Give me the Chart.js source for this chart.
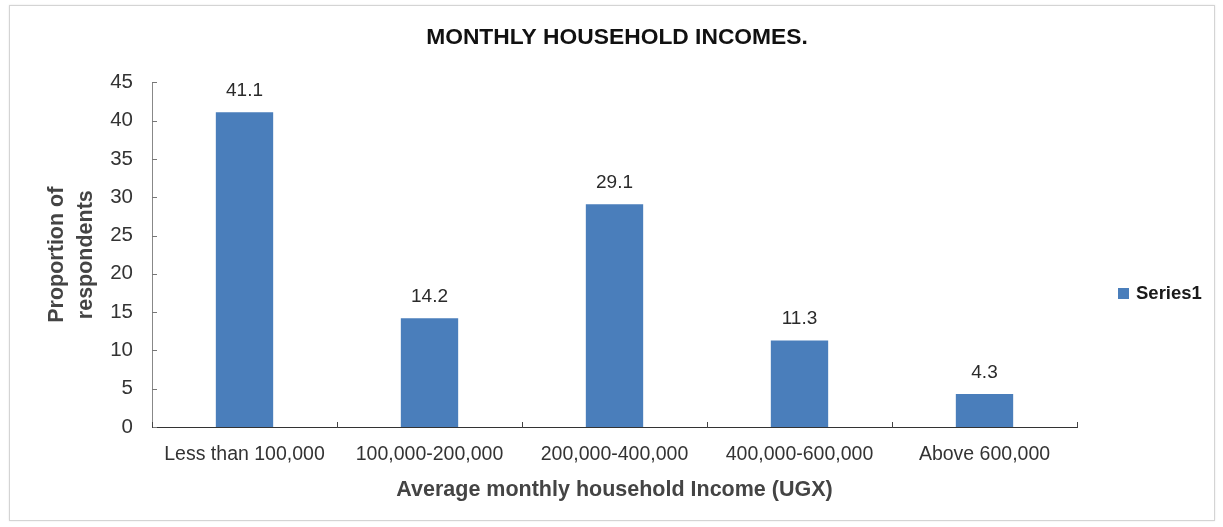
<!DOCTYPE html>
<html>
<head>
<meta charset="utf-8">
<script src="https://cdn.jsdelivr.net/npm/chart.js@4.4.1/dist/chart.umd.min.js"></script>
<style>
    html, body { margin: 0; padding: 0; background: #fff; }
    #wrap { position: relative; width: 1223px; height: 527px; }
    #frame {
        position: absolute; left: 9px; top: 5px; width: 1204px; height: 514px;
        border: 1px solid #d4d4d4; box-shadow: 0 0 2px #e6e6e6;
    }
    #chartBox { position: absolute; left: 0; top: 0; width: 1223px; height: 527px; }
</style>
</head>
<body>
<div id="wrap">
    <div id="frame"></div>
    <div id="chartBox"><canvas id="myChart"></canvas></div>
</div>
<script>
const categories = [
    "Less than 100,000",
    "100,000-200,000",
    "200,000-400,000",
    "400,000-600,000",
    "Above 600,000",
];
const series1 = [41.1, 14.2, 29.1, 11.3, 4.3];
const seriesName = "Series1";
const yTicks = [0, 5, 10, 15, 20, 25, 30, 35, 40, 45];

const FONT = "'Liberation Sans', Arial, sans-serif";
const barColor = "#4a7ebb";

// value labels over the bars, inner tick marks, and the legend on the right
const extras = {
    id: "extras",
    afterDatasetsDraw(chart) {
        const ctx = chart.ctx;
        const meta = chart.getDatasetMeta(0);
        ctx.save();
        ctx.font = "19px " + FONT;
        ctx.fillStyle = "#2a2a2a";
        ctx.textAlign = "center";
        ctx.textBaseline = "alphabetic";
        meta.data.forEach((bar, i) => {
            ctx.fillText(String(series1[i]), bar.x, bar.y - 16);
        });

        // small tick marks pointing into the plot
        const x = chart.scales.x;
        const y = chart.scales.y;
        ctx.strokeStyle = "#777";
        ctx.lineWidth = 1;
        yTicks.forEach((v) => {
            const py = Math.round(y.getPixelForValue(v)) + 0.5;
            ctx.beginPath();
            ctx.moveTo(x.left, py);
            ctx.lineTo(x.left + 5, py);
            ctx.stroke();
        });
        ctx.strokeStyle = "#444";
        for (let i = 0; i <= categories.length; i++) {
            const px = Math.round(x.getPixelForValue(i - 0.5)) + 0.5;
            ctx.beginPath();
            ctx.moveTo(px, y.bottom + 1);
            ctx.lineTo(px, y.bottom - 5);
            ctx.stroke();
        }

        // legend
        ctx.fillStyle = barColor;
        ctx.fillRect(1118, 288, 11, 11);
        ctx.fillStyle = "#1a1a1a";
        ctx.font = "bold 18.5px " + FONT;
        ctx.textAlign = "left";
        ctx.textBaseline = "middle";
        ctx.fillText(chart.data.datasets[0].label, 1136, 294);
        ctx.restore();
    },
};

const ctx = document.getElementById("myChart");
new Chart(ctx, {
    type: "bar",
    data: {
        labels: categories,
        datasets: [
            {
                label: seriesName,
                data: series1,
                backgroundColor: barColor,
                barPercentage: 0.31,
                categoryPercentage: 1,
            },
        ],
    },
    options: {
        responsive: true,
        maintainAspectRatio: false,
        animation: false,
        events: [],
        layout: {
            padding: { left: 38, right: 27, top: 0, bottom: 16 },
        },
        plugins: {
            legend: { display: false },
            tooltip: { enabled: false },
            title: {
                display: true,
                text: "MONTHLY HOUSEHOLD INCOMES.",
                color: "#111",
                font: { family: FONT, size: 22.8, weight: "bold" },
                padding: { top: 24, bottom: 31 },
            },
        },
        scales: {
            x: {
                grid: { display: false, drawTicks: false },
                border: { display: true, color: "#333", width: 1 },
                ticks: {
                    color: "#333",
                    font: { family: FONT, size: 19.5 },
                    padding: 16,
                    maxRotation: 0,
                    autoSkip: false,
                },
                title: {
                    display: true,
                    text: "Average monthly household Income (UGX)",
                    color: "#444",
                    font: { family: FONT, size: 21.5, weight: "bold" },
                    padding: { top: 4, bottom: 8 },
                },
                afterFit: (scale) => {
                    scale.height = 84;
                },
            },
            y: {
                min: 0,
                max: 45,
                grid: { display: false, drawTicks: false },
                border: { display: true, color: "#888", width: 1 },
                afterBuildTicks: (scale) => {
                    scale.ticks = yTicks.map((v) => ({ value: v }));
                },
                ticks: {
                    color: "#333",
                    font: { family: FONT, size: 20.5 },
                    padding: 19,
                },
                title: {
                    display: true,
                    text: ["Proportion of", "respondents"],
                    color: "#444",
                    font: { family: FONT, size: 21.5, weight: "bold", lineHeight: 1.38 },
                    padding: { top: 4, bottom: 0 },
                },
                afterFit: (scale) => {
                    scale.width = 114;
                },
            },
            // empty axis on the right, keeps room for the legend
            side: {
                type: "linear",
                position: "right",
                display: true,
                grid: { display: false, drawTicks: false },
                border: { display: false },
                ticks: { display: false },
                afterFit: (scale) => {
                    scale.width = 119;
                },
            },
        },
    },
    plugins: [extras],
});
</script>
</body>
</html>
